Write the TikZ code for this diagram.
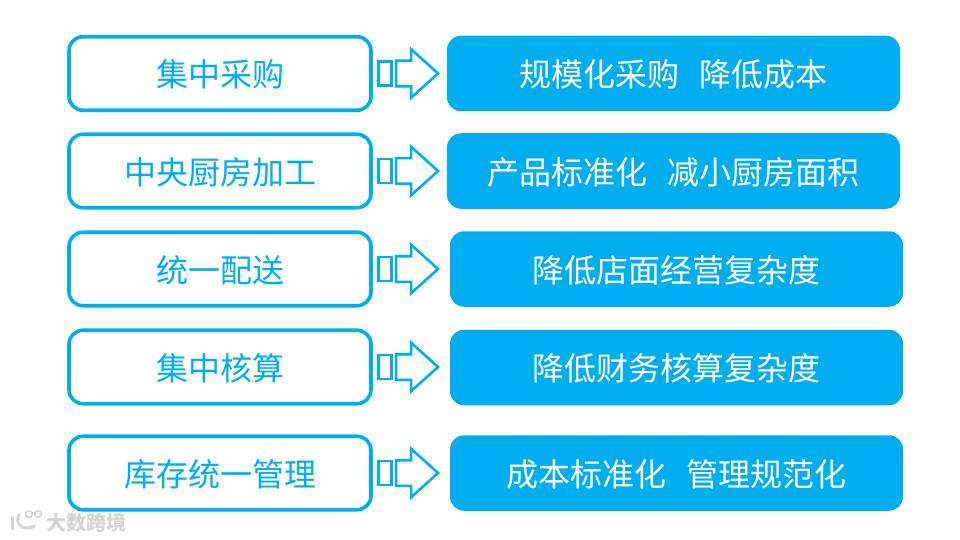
\documentclass[tikz,border=0pt]{standalone}
\usepackage{fontspec}
\setmainfont{Noto Sans CJK SC}
\usetikzlibrary{shapes.arrows}
\definecolor{skyblue}{HTML}{00AEEF}
\definecolor{markgray}{HTML}{D4D4D4}
\newcommand{\lowtext}[1]{\raisebox{-1.2pt}[\height][\depth]{#1}}
\tikzset{
  leftbox/.style={draw=skyblue,line width=3.6pt,rounded corners=14pt,fill=white,text=skyblue,
    minimum width=302pt,minimum height=73.5pt,inner sep=0pt,font=\fontsize{32}{38}\selectfont},
  rightbox/.style={fill=skyblue,rounded corners=14pt,text=white,
    minimum width=453pt,minimum height=75.5pt,inner sep=0pt,font=\fontsize{32}{38}\selectfont},
  tailbox/.style={draw=skyblue,line width=2.6pt,fill=white,minimum width=13pt,minimum height=24pt,inner sep=0pt},
  headarrow/.style={draw=skyblue,line width=2.6pt,fill=white,single arrow,single arrow head extend=11.5pt,
    single arrow tip angle=84,minimum height=42pt,inner xsep=0pt,inner ysep=11.5pt,anchor=tip},
  marktext/.style={text=markgray,inner sep=0pt,font=\fontsize{20}{24}\selectfont\bfseries},
}
\begin{document}
\begin{tikzpicture}[x=1pt,y=-1pt]
  \useasboundingbox (0,0) rectangle (960,540);
  \node[leftbox] (l1) at (220,73.5) {\lowtext{集中采购}};
  \node[leftbox] (l2) at (220,171) {\lowtext{中央厨房加工}};
  \node[leftbox] (l3) at (220,269) {\lowtext{统一配送}};
  \node[leftbox] (l4) at (220,367) {\lowtext{集中核算}};
  \node[leftbox] (l5) at (220,473) {\lowtext{库存统一管理}};
  \node[rightbox] (r1) at (673.5,73.5) {\lowtext{规模化采购\hspace{0.65em}降低成本}};
  \node[rightbox] (r2) at (673.5,171) {\lowtext{产品标准化\hspace{0.65em}减小厨房面积}};
  \node[rightbox] (r3) at (676.5,269) {\lowtext{降低店面经营复杂度}};
  \node[rightbox] (r4) at (676.5,367.5) {\lowtext{降低财务核算复杂度}};
  \node[rightbox] (r5) at (676.5,473) {\lowtext{成本标准化\hspace{0.65em}管理规范化}};
  \node[tailbox] (t1) at (385,73.5) {};
  \node[tailbox] (t2) at (385,171) {};
  \node[tailbox] (t3) at (385,269) {};
  \node[tailbox] (t4) at (385,367) {};
  \node[tailbox] (t5) at (385,473) {};
  \node[headarrow] (a1) at (440,73.5) {};
  \node[headarrow] (a2) at (440,171) {};
  \node[headarrow] (a3) at (440,269) {};
  \node[headarrow] (a4) at (440,367) {};
  \node[headarrow] (a5) at (440,473) {};
  % watermark
  \begin{scope}[draw=markgray,line width=3pt]
    \draw (12,517) -- (12,530);
    \draw (19,514) .. controls (15,524) and (22,532) .. (35,526);
    \draw[line width=1.6pt] (29,514) circle (3.4);
    \draw[line width=1.6pt] (38,514) circle (3.4);
  \end{scope}
  \node[marktext] (wm) at (86.5,523) {大数跨境};
\end{tikzpicture}
\end{document}
